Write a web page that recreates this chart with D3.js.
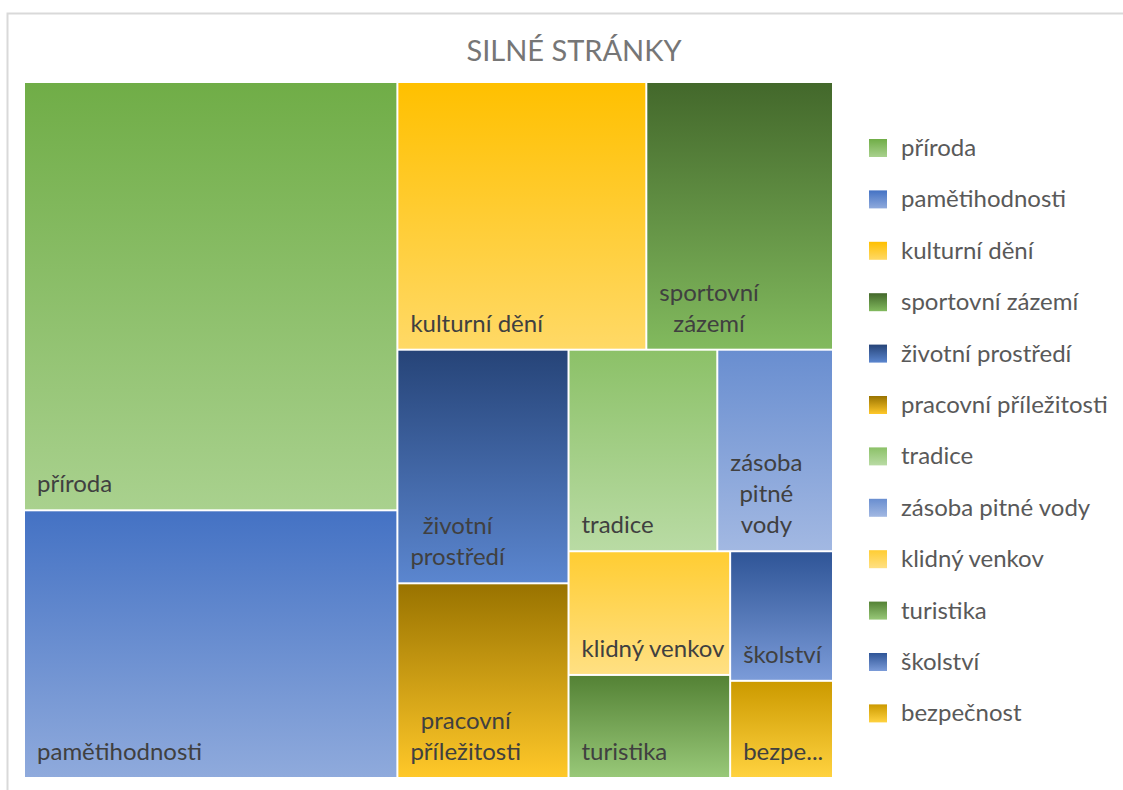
<!DOCTYPE html>
<html>
<head>
<meta charset="utf-8">
<script src="https://cdn.jsdelivr.net/npm/d3@7"></script>
<style>
  body { margin: 0; background: #fff; }
  svg { display: block; font-family: Lato, "Open Sans", sans-serif; }
</style>
</head>
<body>
<div class="canvas"></div>
<script>
// data
const categories = ['příroda', 'pamětihodnosti', 'kulturní dění', 'sportovní zázemí', 'životní prostředí',
  'pracovní příležitosti', 'tradice', 'zásoba pitné vody', 'klidný venkov', 'turistika', 'školství', 'bezpečnost'];
const values = [48, 30, 20, 15, 12, 10, 9, 7, 6, 5, 4, 3];
// labels as they are wrapped / cut inside the tiles
const tileLabels = [['příroda'], ['pamětihodnosti'], ['kulturní dění'], ['sportovní', 'zázemí'],
  ['životní', 'prostředí'], ['pracovní', 'příležitosti'], ['tradice'], ['zásoba', 'pitné', 'vody'],
  ['klidný venkov'], ['turistika'], ['školství'], ['bezpe...']];
const title = 'SILNÉ STRÁNKY';

// gradient colours (top, bottom)
const colors = [
  ['#70ad47', '#a9d18e'], ['#4472c4', '#8faadc'], ['#ffc000', '#ffd966'], ['#43682b', '#82ba5e'],
  ['#264478', '#5b86cf'], ['#997300', '#ffc829'], ['#8cc168', '#b9dba4'], ['#698ed0', '#a2b8e2'],
  ['#ffcd33', '#ffe083'], ['#548235', '#98c878'], ['#2f5597', '#7b9bd8'], ['#cc9a00', '#ffd23f']
];

const width = 1123, height = 790;
const svg = d3.select('.canvas')
  .append('svg')
  .attr('width', width)
  .attr('height', height);

// chart frame
svg.append('rect')
  .attr('x', 7.5).attr('y', 13.5)
  .attr('width', width).attr('height', height)
  .attr('fill', 'none')
  .attr('stroke', '#d9d9d9')
  .attr('stroke-width', 2);

// gradients
const defs = svg.append('defs');
colors.forEach((c, i) => {
  const g = defs.append('linearGradient')
    .attr('id', 'grad' + i)
    .attr('x1', 0).attr('y1', 0).attr('x2', 0).attr('y2', 1);
  g.append('stop').attr('offset', '0%').attr('stop-color', c[0]);
  g.append('stop').attr('offset', '100%').attr('stop-color', c[1]);
});

// title
svg.append('text')
  .attr('x', 574).attr('y', 61)
  .attr('text-anchor', 'middle')
  .attr('font-size', 29)
  .attr('fill', '#767676')
  .text(title);

// treemap
const plot = { x0: 25, y0: 83, x1: 832, y1: 777 };
const root = d3.hierarchy({ children: categories.map((c, i) => ({ name: c, value: values[i], i })) })
  .sum(d => d.value || 0)
  .sort((a, b) => b.value - a.value);

d3.treemap()
  .tile(d3.treemapSquarify.ratio(1))
  .size([plot.x1 - plot.x0, plot.y1 - plot.y0])
  .paddingInner(2)(root);

const graph = svg.append('g')
  .attr('transform', `translate(${plot.x0},${plot.y0})`);

const cells = graph.selectAll('g')
  .data(root.leaves())
  .enter()
  .append('g')
  .attr('transform', d => `translate(${d.x0},${d.y0})`);

cells.append('rect')
  .attr('width', d => d.x1 - d.x0)
  .attr('height', d => d.y1 - d.y0)
  .attr('fill', d => `url(#grad${d.data.i})`);

const lineH = 31;
cells.each(function (d) {
  const lines = tileLabels[d.data.i];
  const cell = d3.select(this);
  const h = d.y1 - d.y0;
  const txt = cell.append('text')
    .attr('font-size', 24)
    .attr('fill', '#404040');
  const spans = txt.selectAll('tspan')
    .data(lines)
    .enter()
    .append('tspan')
    .attr('y', (l, j) => h - 17 - (lines.length - 1 - j) * lineH)
    .text(l => l);
  // centre the lines in a left aligned block
  let maxW = 0;
  spans.each(function () { maxW = Math.max(maxW, this.getComputedTextLength()); });
  spans.attr('x', 12 + maxW / 2).attr('text-anchor', 'middle');
});

// legend
const legend = svg.append('g')
  .attr('transform', 'translate(869,148)');
const items = legend.selectAll('g')
  .data(categories)
  .enter()
  .append('g')
  .attr('transform', (d, i) => `translate(0,${i * 51.4})`);

items.append('rect')
  .attr('x', 0).attr('y', -9)
  .attr('width', 18).attr('height', 18)
  .attr('fill', (d, i) => `url(#grad${i})`);

items.append('text')
  .attr('x', 32).attr('y', 8)
  .attr('font-size', 24)
  .attr('fill', '#595959')
  .text(d => d);
</script>
</body>
</html>
